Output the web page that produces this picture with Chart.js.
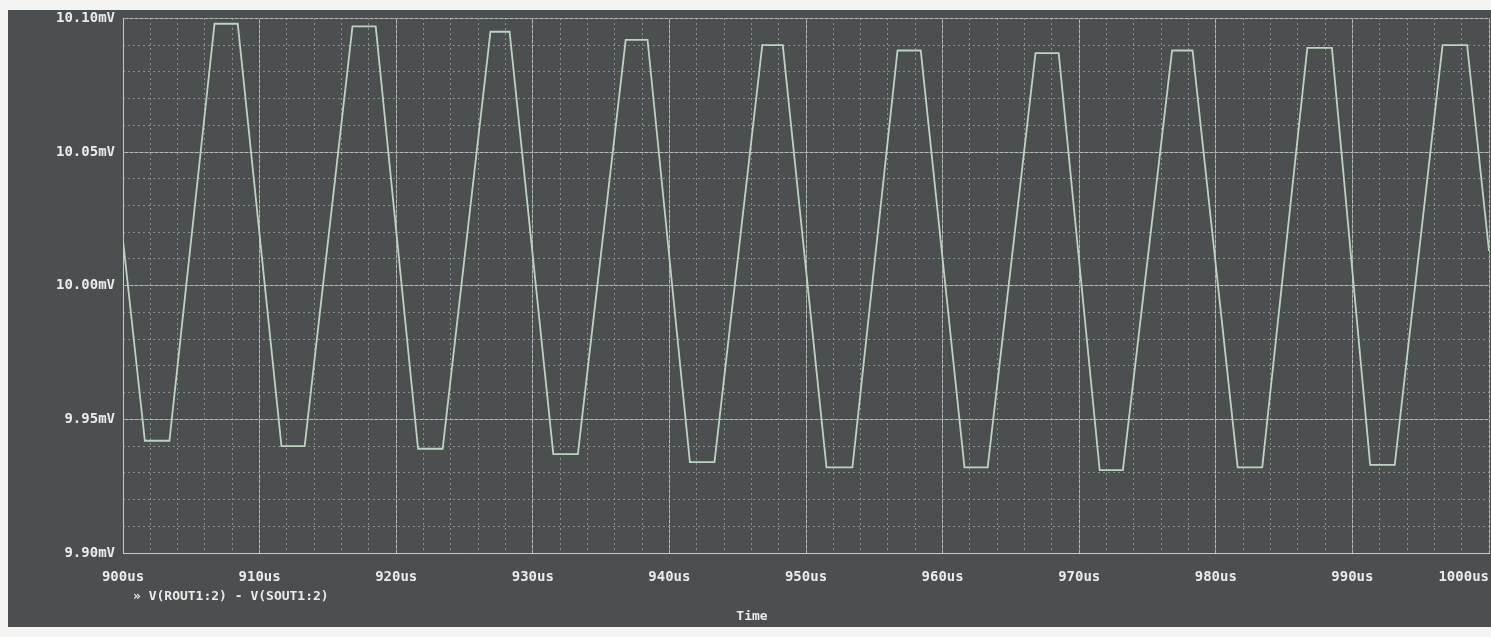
<!DOCTYPE html>
<html>
<head>
<meta charset="utf-8">
<script src="https://cdn.jsdelivr.net/npm/chart.js@4.4.1/dist/chart.umd.min.js"></script>
<style>
  html, body { margin: 0; padding: 0; background: #f4f4f2; overflow: hidden; }
  #wrap { position: absolute; left: 8px; top: 10px; }
</style>
</head>
<body>
<div id="wrap"><canvas id="scope" width="1483" height="617"></canvas></div>
<script>
// trace: corners of each flat top / flat bottom
const timeUs = [900, 901.6, 903.4, 906.7, 908.4, 911.6, 913.3, 916.8, 918.5,
  921.6, 923.4, 926.9, 928.3, 931.5, 933.3, 936.8, 938.4, 941.5, 943.3,
  946.8, 948.3, 951.5, 953.4, 956.7, 958.4, 961.6, 963.3, 966.8, 968.5,
  971.5, 973.2, 976.8, 978.3, 981.6, 983.4, 986.7, 988.5, 991.3, 993.1,
  996.6, 998.4, 1000];
const voltMv = [10.017, 9.942, 9.942, 10.098, 10.098, 9.940, 9.940, 10.097, 10.097,
  9.939, 9.939, 10.095, 10.095, 9.937, 9.937, 10.092, 10.092, 9.934, 9.934,
  10.090, 10.090, 9.932, 9.932, 10.088, 10.088, 9.932, 9.932, 10.087, 10.087,
  9.931, 9.931, 10.088, 10.088, 9.932, 9.932, 10.089, 10.089, 9.933, 9.933,
  10.090, 10.090, 10.013];

const xTicks = [900, 910, 920, 930, 940, 950, 960, 970, 980, 990, 1000];
const xTickLabels = ["900us", "910us", "920us", "930us", "940us", "950us",
  "960us", "970us", "980us", "990us", "1000us"];
const yTickLabels = ["9.90mV", "9.95mV", "10.00mV", "10.05mV", "10.10mV"];
const traceName = "V(ROUT1:2) - V(SOUT1:2)";
const xTitle = "Time";

const bg = "#4b4f50";
const textColor = "#e9ecea";
const labelFont = "bold 14px 'DejaVu Sans Mono', monospace";

const backdrop = {
  id: "backdrop",
  beforeDraw(chart) {
    const ctx = chart.ctx;
    ctx.save();
    ctx.fillStyle = bg;
    ctx.fillRect(0, 0, chart.width, chart.height);
    ctx.restore();
  },
  afterDraw(chart) {
    const ctx = chart.ctx;
    const x = chart.scales.x;
    const area = chart.chartArea;
    ctx.save();
    ctx.font = labelFont;
    ctx.fillStyle = textColor;
    ctx.textBaseline = "middle";
    xTicks.forEach((t, i) => {
      const px = x.getPixelForValue(t);
      ctx.textAlign = i === xTicks.length - 1 ? "right" : "center";
      ctx.fillText(xTickLabels[i], px, area.bottom + 24);
    });
    // legend entry
    ctx.textAlign = "left";
    ctx.font = "bold 13px 'DejaVu Sans Mono', monospace";
    ctx.fillText("\u00bb " + traceName, area.left + 10, area.bottom + 44);
    ctx.textAlign = "center";
    ctx.fillText(xTitle, 744, area.bottom + 64);
    ctx.restore();
  }
};

new Chart(document.getElementById("scope"), {
  type: "line",
  data: {
    datasets: [
      {
        label: traceName,
        data: timeUs.map((t, i) => ({ x: t, y: voltMv[i] })),
        borderColor: "#bcd3c1",
        borderWidth: 1.8,
        pointRadius: 0,
        tension: 0,
        fill: false
      }
    ]
  },
  options: {
    responsive: false,
    animation: false,
    devicePixelRatio: 1,
    layout: { padding: { top: 0, right: 2, left: 0, bottom: 0 } },
    plugins: {
      legend: { display: false },
      tooltip: { enabled: false }
    },
    scales: {
      x: {
        type: "linear",
        min: 900,
        max: 1000,
        ticks: { stepSize: 10, display: false },
        grid: { color: "#b4b8b6", lineWidth: 1, drawTicks: false },
        border: { display: true, color: "#c6cac8" },
        afterFit(scale) { scale.height = 74; }
      },
      xMinor: {
        type: "linear",
        position: "top",
        min: 900,
        max: 1000,
        ticks: { stepSize: 2, display: false },
        grid: { color: "#888d8c", lineWidth: 1, drawTicks: false },
        border: { display: false, dash: [2, 3] },
        afterFit(scale) { scale.height = 0; }
      },
      y: {
        min: 9.9,
        max: 10.1,
        ticks: {
          stepSize: 0.05,
          padding: 0,
          color: textColor,
          font: { family: "'DejaVu Sans Mono', monospace", size: 14, weight: "bold" },
          callback: (v) => yTickLabels[Math.round((v - 9.9) / 0.05)]
        },
        grid: { color: "#b4b8b6", lineWidth: 1, drawTicks: true, tickLength: 8, tickColor: "rgba(0,0,0,0)" },
        border: { display: true, color: "#c6cac8" },
        afterFit(scale) { scale.width = 115; }
      },
      yMinor: {
        position: "right",
        min: 9.9,
        max: 10.1,
        ticks: { stepSize: 0.01, display: false },
        grid: { color: "#888d8c", lineWidth: 1, drawTicks: false },
        border: { display: false, dash: [2, 3] },
        afterFit(scale) { scale.width = 0; }
      }
    }
  },
  plugins: [backdrop]
});
</script>
</body>
</html>
